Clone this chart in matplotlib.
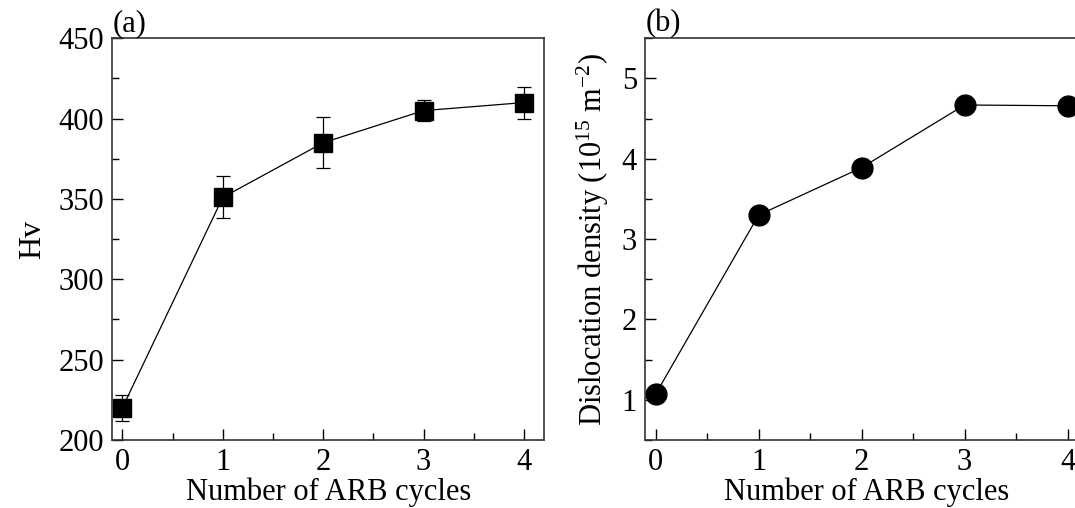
import matplotlib.pyplot as plt
from matplotlib.ticker import MultipleLocator

plt.rcParams['font.family'] = 'Liberation Serif'
plt.rcParams['mathtext.default'] = 'regular'

# ARB cycles
cycles = [0, 1, 2, 3, 4]

# (a) hardness with error bars
hv = [220, 351, 385, 405, 410]
hv_err = [8, 13, 16, 6.5, 10]

# (b) dislocation density, 10^15 m^-2
density = [1.07, 3.30, 3.89, 4.67, 4.66]

fig = plt.figure(figsize=(10.75, 5.08), dpi=100)
ax1 = fig.add_axes([0.1045, 0.1339, 0.4016, 0.7907])
ax2 = fig.add_axes([0.6003, 0.1339, 0.412, 0.7907])

ax1.errorbar(cycles, hv, yerr=hv_err, color='black', marker='s', markersize=13,
             lw=0.9, elinewidth=0.9, capsize=5, capthick=0.9, ecolor='black')
ax1.set_xlim(-0.1, 4.2)
ax1.set_ylim(200, 450)
ax1.yaxis.set_major_locator(MultipleLocator(50))
ax1.yaxis.set_minor_locator(MultipleLocator(25))
ax1.set_ylabel('Hv', fontsize=23, labelpad=8)
ax1.text(0.0, 1.0, '(a)', transform=ax1.transAxes, fontsize=22, va='bottom')

ax2.plot(cycles, density, color='black', marker='o', markersize=15, lw=0.9,
         clip_on=False)
ax2.set_xlim(-0.1, 4.2)
ax2.set_ylim(0.5, 5.5)
ax2.yaxis.set_major_locator(MultipleLocator(1))
ax2.yaxis.set_minor_locator(MultipleLocator(0.5))
ax2.set_ylabel('Dislocation density (10$^{15}$ m$^{-2}$)', fontsize=22, labelpad=8)
ax2.text(0.0, 1.0, '(b)', transform=ax2.transAxes, fontsize=22, va='bottom')

for ax in (ax1, ax2):
    ax.xaxis.set_major_locator(MultipleLocator(1))
    ax.xaxis.set_minor_locator(MultipleLocator(0.5))
    ax.tick_params(which='both', direction='in', top=False, right=False,
                   labelsize=22, width=1.0)
    ax.tick_params(which='major', length=8, pad=6)
    ax.tick_params(which='minor', length=5)
    ax.set_xlabel('Number of ARB cycles', fontsize=22, labelpad=0)
    for s in ax.spines.values():
        s.set_linewidth(1.2)
        s.set_color('#333333')

fig.savefig('out.png', dpi=100)
